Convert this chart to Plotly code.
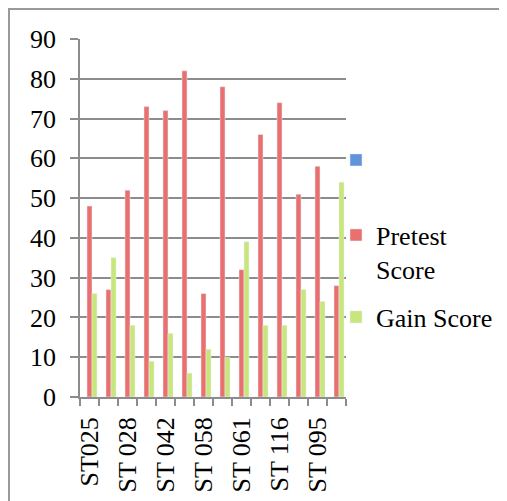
import plotly.graph_objects as go

categories = ["ST025", "ST 026", "ST 028", "ST 030", "ST 042", "ST 045", "ST 058",
              "ST 060", "ST 061", "ST 070", "ST 116", "ST 090", "ST 095", "ST 100"]
tick_labels = ["ST025", "", "ST 028", "", "ST 042", "", "ST 058",
               "", "ST 061", "", "ST 116", "", "ST 095", ""]
series1_values = [0] * 14
pretest_values = [48, 27, 52, 73, 72, 82, 26, 78, 32, 66, 74, 51, 58, 28]
gain_values = [26, 35, 18, 9, 16, 6, 12, 10, 39, 18, 18, 27, 24, 54]
y_ticks = [0, 10, 20, 30, 40, 50, 60, 70, 80, 90]

FONT = "Liberation Serif, DejaVu Serif, serif"
GRID = "#8c8c8c"

OFF = 8  # page body margin
W, H = 507 - OFF, 501 - OFF
L, T = 80 - OFF, 39 - OFF
pw, ph = 266, 358
R, B = W - L - pw, H - T - ph

def px_x(x):  # page pixel -> paper
    return (x - OFF - L) / pw

def px_y(y):
    return (T + ph - (y - OFF)) / ph

fig = go.Figure()
fig.add_trace(go.Bar(x=categories, y=series1_values, name=" ", marker_color="#5F93DC",
                     legend="legend", showlegend=True))
fig.add_trace(go.Bar(x=categories, y=pretest_values, name="Pretest<br>Score",
                     marker_color="#EA7070", legend="legend2"))
fig.add_trace(go.Bar(x=categories, y=gain_values, name="Gain Score",
                     marker_color="#C8E67C", legend="legend3"))

leg_common = dict(font=dict(family=FONT, size=26, color="black"), bgcolor="rgba(0,0,0,0)",
                  xanchor="left", yanchor="middle", x=px_x(336), valign="top",
                  itemwidth=30)

fig.update_layout(
    width=W, height=H,
    margin=dict(l=L, r=R, t=T, b=B, autoexpand=False),
    paper_bgcolor="white", plot_bgcolor="white",
    showlegend=True,
    barmode="group", bargap=0.21, bargroupgap=0,
    font=dict(family=FONT, size=26, color="black"),
    legend=dict(leg_common, y=px_y(160)),
    legend2=dict(leg_common, y=px_y(252)),
    legend3=dict(leg_common, y=px_y(317)),
    xaxis=dict(
        type="category", tickvals=categories, ticktext=tick_labels,
        tickangle=-90, tickson="boundaries", ticks="outside", ticklen=7,
        tickcolor=GRID, tickwidth=1.5, showline=True, linecolor=GRID, linewidth=1.5,
        showgrid=False, ticklabelstandoff=8, automargin=False,
        tickfont=dict(family=FONT, size=26, color="black"),
    ),
    yaxis=dict(
        range=[0, 90], tickvals=y_ticks, ticks="outside", ticklen=8,
        tickcolor=GRID, tickwidth=1.5, showline=True, linecolor=GRID, linewidth=1.5,
        showgrid=True, gridcolor=GRID, gridwidth=1.5, zeroline=False,
        ticklabelstandoff=9, automargin=False,
        tickfont=dict(family=FONT, size=26, color="black"),
    ),
    shapes=[dict(type="rect", xref="paper", yref="paper",
                 x0=px_x(9), x1=px_x(530), y0=px_y(530), y1=px_y(9),
                 line=dict(color="#999999", width=2), layer="below")],
)

fig.write_html("out.html")
